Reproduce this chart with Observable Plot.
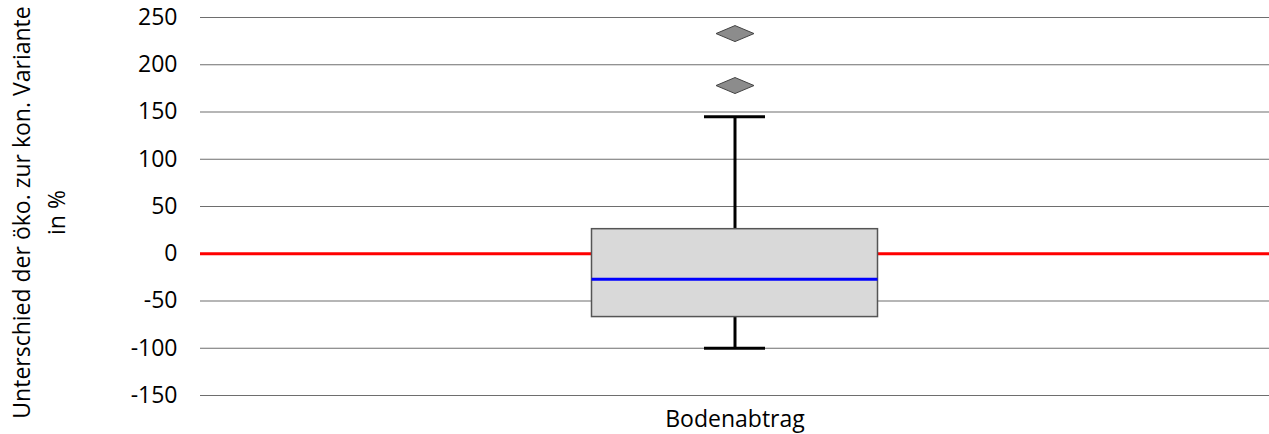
<!DOCTYPE html>
<html>
<head>
<meta charset="utf-8">
<script src="https://cdn.jsdelivr.net/npm/d3@7"></script>
<script src="https://cdn.jsdelivr.net/npm/@observablehq/plot@0.6"></script>
<style>
  html, body { margin: 0; padding: 0; background: #fff; }
  #chart svg { display: block; font-family: "Open Sans", sans-serif; }
</style>
</head>
<body>
<div id="chart"></div>
<script>
// ---- data ----
const categories = ["Bodenabtrag"];
const q1 = [-67];
const median = [-27];
const q3 = [26];
const whiskerLow = [-100];
const whiskerHigh = [145];
const outlierCategory = ["Bodenabtrag", "Bodenabtrag"];
const outlierValues = [233, 178];
const yTicks = [-150, -100, -50, 0, 50, 100, 150, 200, 250];
const yLabel = "Unterschied der öko. zur kon. Variante\nin %";

const boxes = categories.map((c, i) => ({
  cat: c, q1: q1[i], median: median[i], q3: q3[i], lo: whiskerLow[i], hi: whiskerHigh[i]
}));
const outliers = outlierCategory.map((c, i) => ({ cat: c, v: outlierValues[i] }));

// wide diamond symbol
const wideDiamond = {
  draw(context, size) {
    const hw = 19, hh = 8;
    context.moveTo(-hw, 0);
    context.lineTo(0, -hh);
    context.lineTo(hw, 0);
    context.lineTo(0, hh);
    context.closePath();
  }
};

const W = 1269, H = 434, ML = 200, MR = 0;
const bandW = W - ML - MR;
const boxW = 286, capW = 61;
const boxInset = (bandW - boxW) / 2;
const capInset = (bandW - capW) / 2;
const FS = 23;

const chart = Plot.plot({
  width: W,
  height: H,
  marginLeft: ML,
  marginRight: MR,
  marginTop: 17,
  marginBottom: 39,
  style: { fontSize: FS + "px", fontFamily: "'Open Sans', sans-serif", color: "#000", background: "#fff" },
  x: { type: "band", domain: categories, padding: 0, label: null },
  y: { domain: [-150, 250], label: null },
  marks: [
    Plot.ruleY(yTicks.filter(d => d !== 0), { stroke: "#6e6e6e", strokeWidth: 1.2 }),
    Plot.ruleY([0], { stroke: "#ff0000", strokeWidth: 3 }),
    Plot.axisY({ ticks: yTicks, tickSize: 0, tickPadding: 23, tickFormat: d => String(d), fontSize: FS, label: null }),
    Plot.axisX({ tickSize: 0, tickPadding: 15, fontSize: FS, label: null }),
    Plot.text([yLabel], {
      frameAnchor: "left", dx: -164, dy: 6, rotate: -90, text: d => d,
      fontSize: FS, lineHeight: 1.5, textAnchor: "middle", fill: "#000"
    }),
    Plot.ruleX(boxes, { x: "cat", y1: "lo", y2: "hi", stroke: "#000", strokeWidth: 3 }),
    Plot.tickY(boxes, { x: "cat", y: "lo", stroke: "#000", strokeWidth: 3, insetLeft: capInset, insetRight: capInset }),
    Plot.tickY(boxes, { x: "cat", y: "hi", stroke: "#000", strokeWidth: 3, insetLeft: capInset, insetRight: capInset }),
    Plot.rectY(boxes, { x: "cat", y1: "q1", y2: "q3", fill: "#d9d9d9", stroke: "#555", strokeWidth: 1.5, insetLeft: boxInset, insetRight: boxInset }),
    Plot.tickY(boxes, { x: "cat", y: "median", stroke: "#0000ff", strokeWidth: 3, insetLeft: boxInset, insetRight: boxInset }),
    Plot.dot(outliers, { x: "cat", y: "v", symbol: wideDiamond, fill: "#8c8c8c", stroke: "#444", strokeWidth: 1 })
  ]
});
document.getElementById("chart").appendChild(chart);
</script>
</body>
</html>
